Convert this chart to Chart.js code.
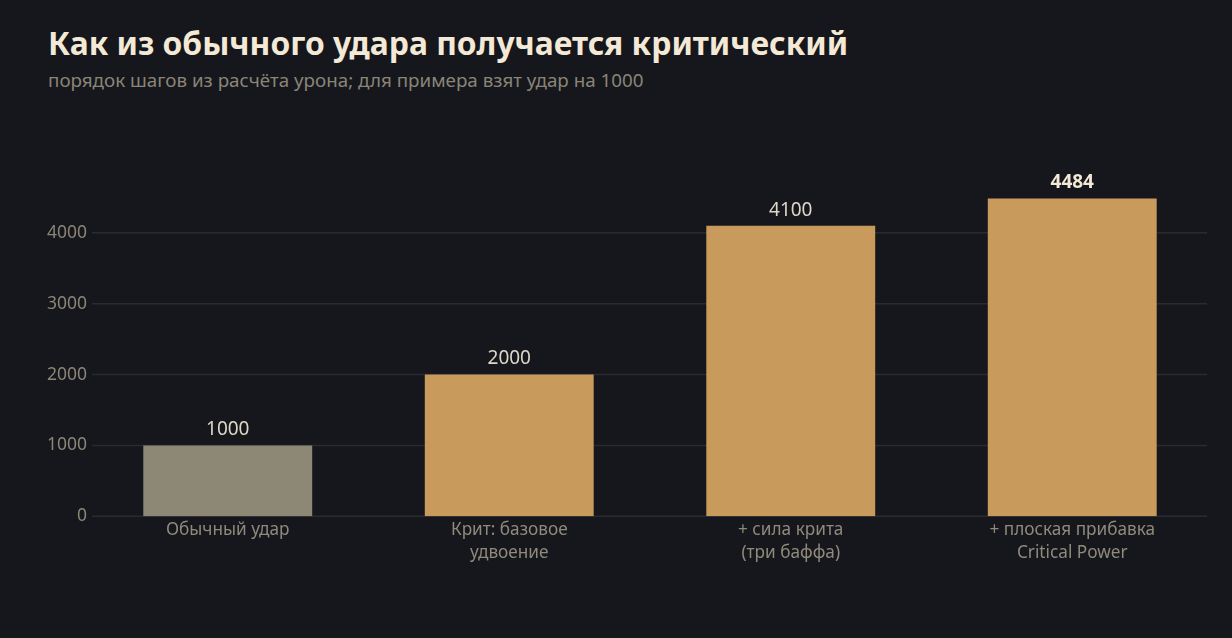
<!DOCTYPE html>
<html lang="ru">
<head>
    <meta charset="UTF-8">
    <title>Как из обычного удара получается критический</title>
    <style>
        body {
            margin: 0;
            background-color: #16171c;
            font-family: "Noto Sans", "Open Sans", sans-serif;
            width: 1232px;
            height: 638px;
            overflow: hidden;
            position: relative;
        }

        h1 {
            position: absolute;
            left: 48px;
            top: 21px;
            margin: 0;
            font-size: 31.8px;
            font-weight: bold;
            color: #f3e9d6;
        }

        .subtitle {
            position: absolute;
            left: 48px;
            top: 67px;
            margin: 0;
            font-size: 18.8px;
            color: #8a8576;
        }

        .chart-container {
            position: absolute;
            left: 0;
            top: 130px;
            width: 1232px;
            height: 437px;
        }
    </style>
</head>
<body>
    <h1>Как из обычного удара получается критический</h1>
    <p class="subtitle">порядок шагов из расчёта урона; для примера взят удар на 1000</p>

    <div class="chart-container">
        <canvas id="critChart"></canvas>
    </div>

    <script src="https://cdn.jsdelivr.net/npm/chart.js"></script>
    <script>
        // Данные
        const categories = [
            'Обычный удар',
            ['Крит: базовое', 'удвоение'],
            ['+ сила крита', '(три баффа)'],
            ['+ плоская прибавка', 'Critical Power']
        ];
        const damage = [1000, 2000, 4100, 4484];
        const yTicks = [0, 1000, 2000, 3000, 4000];

        const barColors = ['#8d8876', '#c89a5b', '#c89a5b', '#c89a5b'];

        // Линии сетки чуть уже области графика
        const gridLines = {
            id: 'gridLines',
            beforeDatasetsDraw(chart) {
                const ctx = chart.ctx;
                const y = chart.scales.y;
                const area = chart.chartArea;
                ctx.save();
                ctx.strokeStyle = '#2a2b30';
                ctx.lineWidth = 1.5;
                yTicks.forEach(v => {
                    const py = y.getPixelForValue(v);
                    ctx.beginPath();
                    ctx.moveTo(area.left + 5, py);
                    ctx.lineTo(area.right - 6, py);
                    ctx.stroke();
                });
                ctx.restore();
            }
        };

        // Подписи над столбцами
        const valueLabels = {
            id: 'valueLabels',
            afterDatasetsDraw(chart) {
                const ctx = chart.ctx;
                const meta = chart.getDatasetMeta(0);
                ctx.save();
                ctx.textAlign = 'center';
                ctx.textBaseline = 'bottom';
                meta.data.forEach((bar, i) => {
                    const last = i === damage.length - 1;
                    ctx.font = (last ? 'bold ' : '') + '19px "Noto Sans", sans-serif';
                    ctx.fillStyle = last ? '#f3e9d6' : '#dcd7c9';
                    ctx.fillText(String(damage[i]), bar.x, bar.y - 6);
                });
                ctx.restore();
            }
        };

        const ctx = document.getElementById('critChart').getContext('2d');
        const critChart = new Chart(ctx, {
            type: 'bar',
            data: {
                labels: categories,
                datasets: [{
                    data: damage,
                    backgroundColor: barColors,
                    borderWidth: 0,
                    barPercentage: 0.6,
                    categoryPercentage: 1.0
                }]
            },
            options: {
                responsive: true,
                maintainAspectRatio: false,
                animation: false,
                layout: {
                    padding: { left: 0, right: 19, top: 39, bottom: 0 }
                },
                plugins: {
                    legend: { display: false },
                    tooltip: { enabled: false }
                },
                scales: {
                    x: {
                        grid: { display: false, drawTicks: false },
                        border: { display: false },
                        ticks: {
                            color: '#8f8a7b',
                            font: { family: '"Noto Sans", sans-serif', size: 17.2, lineHeight: 1.3 },
                            padding: 3
                        }
                    },
                    y: {
                        min: 0,
                        max: 4900,
                        afterBuildTicks(scale) {
                            scale.ticks = yTicks.map(v => ({ value: v }));
                        },
                        afterFit(scale) {
                            scale.width = 87;
                        },
                        grid: { display: false, drawTicks: false },
                        border: { display: false },
                        ticks: {
                            color: '#8a8576',
                            font: { family: '"Noto Sans", sans-serif', size: 17.5 },
                            padding: 0,
                            callback: v => String(v)
                        }
                    }
                }
            },
            plugins: [gridLines, valueLabels]
        });
    </script>
</body>
</html>
